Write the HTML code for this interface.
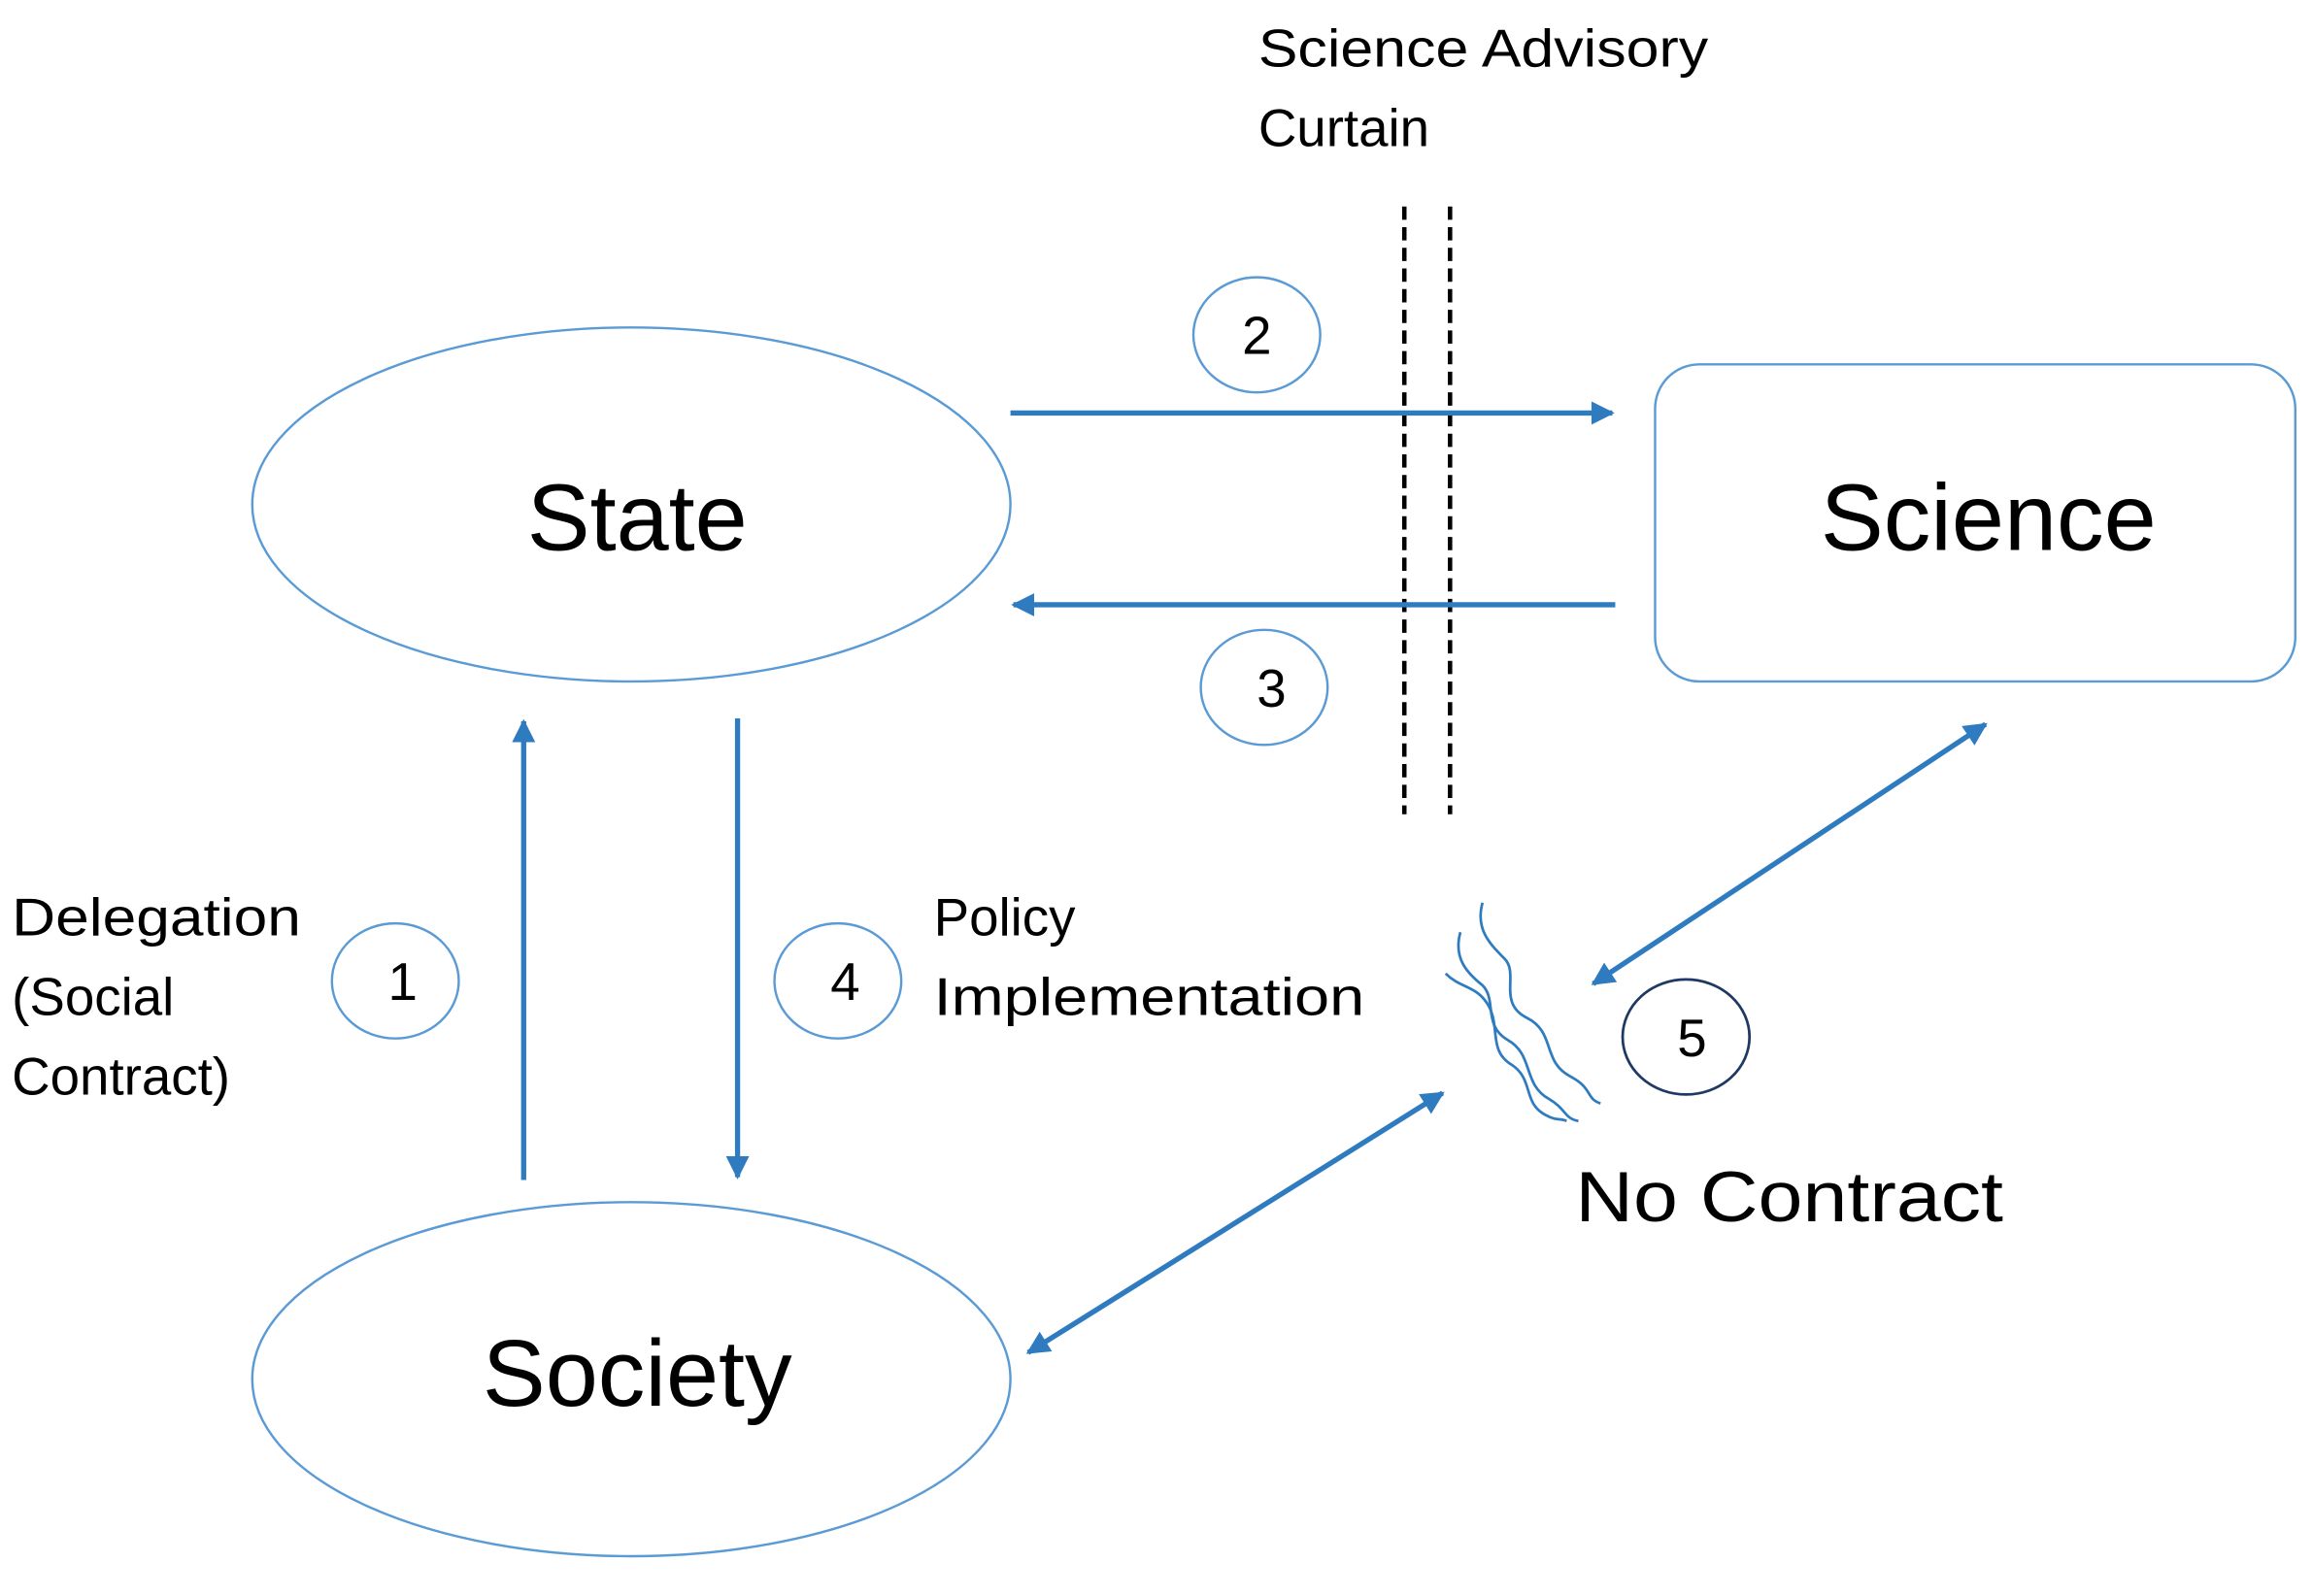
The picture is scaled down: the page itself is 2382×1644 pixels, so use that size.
<!DOCTYPE html>
<html><head><meta charset="utf-8"><style>
html,body{margin:0;padding:0;background:#fff;}
svg{display:block;}
text{font-family:"Liberation Sans",sans-serif;fill:#000;}
</style></head><body>
<svg width="2382" height="1644" viewBox="0 0 1568 1082" preserveAspectRatio="none" xmlns="http://www.w3.org/2000/svg">
<defs>
<marker id="ah" viewBox="0 0 10 10" refX="9" refY="5" markerWidth="4.5" markerHeight="4.5" orient="auto-start-reverse">
<path d="M0,0 L10,5 L0,10 z" fill="#2e7bc0"/></marker>
</defs>
<g fill="none" stroke="#5b9bd5" stroke-width="1.6">
<ellipse cx="428" cy="342" rx="257" ry="120"/>
<ellipse cx="428" cy="935" rx="257" ry="120"/>
<rect x="1122" y="247" width="434" height="215" rx="30"/>
<ellipse cx="852" cy="227" rx="43" ry="39"/>
<ellipse cx="857" cy="466" rx="43" ry="39"/>
<ellipse cx="268" cy="665" rx="43" ry="39"/>
<ellipse cx="568" cy="665" rx="43" ry="39"/>
</g>
<ellipse cx="1143" cy="703" rx="43" ry="39" fill="none" stroke="#1f3864" stroke-width="1.8"/>
<g stroke="#000" stroke-width="3" stroke-dasharray="9,5">
<line x1="952" y1="140" x2="952" y2="552"/>
<line x1="983" y1="140" x2="983" y2="552"/>
</g>
<g stroke="#2e7bc0" stroke-width="3.5" fill="none">
<line x1="685" y1="280" x2="1093" y2="280" marker-end="url(#ah)"/>
<line x1="1095" y1="410" x2="687" y2="410" marker-end="url(#ah)"/>
<line x1="355" y1="800" x2="355" y2="489" marker-end="url(#ah)"/>
<line x1="500" y1="487" x2="500" y2="798" marker-end="url(#ah)"/>
<line x1="1346" y1="491" x2="1080" y2="667" marker-start="url(#ah)" marker-end="url(#ah)"/>
<line x1="978" y1="741" x2="697" y2="917" marker-start="url(#ah)" marker-end="url(#ah)"/>
</g>
<g stroke="#2e7bc0" stroke-width="1.8" fill="none">
<path d="M1005,612 C1000,630 1010,640 1020,650 C1030,660 1015,680 1035,690 C1055,700 1045,720 1065,730 C1080,738 1075,745 1085,748"/>
<path d="M990,632 C985,650 995,660 1005,668 C1015,678 1005,695 1022,705 C1040,715 1032,735 1050,745 C1062,752 1060,758 1070,760"/>
<path d="M980,660 C990,670 1000,668 1008,680 C1018,695 1008,712 1025,722 C1040,732 1032,748 1048,756 C1055,760 1058,758 1062,760"/>
</g>
<text x="432" y="373" font-size="64" text-anchor="middle">State</text>
<text x="1348" y="373" font-size="64" text-anchor="middle">Science</text>
<text x="432" y="953" font-size="64" text-anchor="middle">Society</text>
<g font-size="36">
<text x="853" y="45" textLength="305" lengthAdjust="spacingAndGlyphs">Science Advisory</text>
<text x="853" y="99">Curtain</text>
<text x="8" y="634" textLength="196" lengthAdjust="spacingAndGlyphs">Delegation</text>
<text x="8" y="688">(Social</text>
<text x="8" y="742">Contract)</text>
<text x="633" y="634">Policy</text>
<text x="633" y="688" textLength="292" lengthAdjust="spacingAndGlyphs">Implementation</text>
<text x="852" y="240" text-anchor="middle">2</text>
<text x="862" y="479" text-anchor="middle">3</text>
<text x="273" y="678" text-anchor="middle">1</text>
<text x="573" y="678" text-anchor="middle">4</text>
<text x="1147" y="716" text-anchor="middle">5</text>
</g>
<text x="1068" y="828" font-size="48" textLength="290" lengthAdjust="spacingAndGlyphs">No Contract</text>
</svg>
</body></html>
